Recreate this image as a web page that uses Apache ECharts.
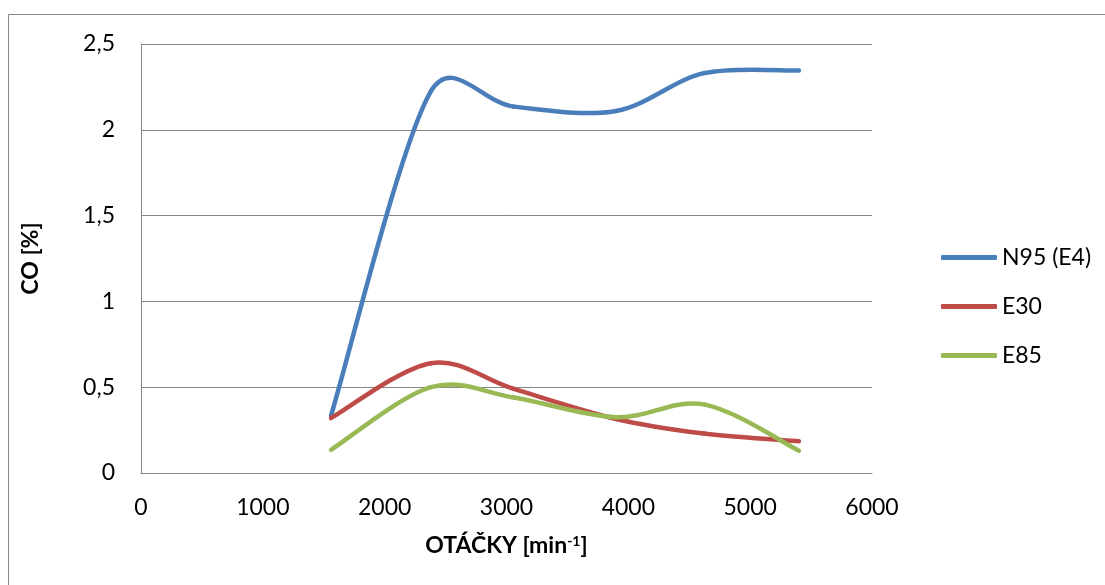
<!DOCTYPE html>
<html>
<head>
<meta charset="utf-8">
<script src="https://cdn.jsdelivr.net/npm/echarts@6/dist/echarts.min.js"></script>
<style>
html,body{margin:0;padding:0;background:#fff;}
#chart{width:1105px;height:585px;}
</style>
</head>
<body>
<div id="chart"></div>
<script>
const rpm = [1560, 2380, 3060, 3900, 4620, 5400];
const n95 = [0.335, 2.225, 2.135, 2.11, 2.33, 2.345];
const e30 = [0.32, 0.64, 0.49, 0.315, 0.23, 0.185];
const e85 = [0.135, 0.50, 0.44, 0.325, 0.40, 0.13];
const seriesNames = ['N95 (E4)', 'E30', 'E85'];
const colors = ['#4A7EBB', '#BE4B48', '#98B954'];
const xTicks = {min: 0, max: 6000, interval: 1000};
const yTicks = {min: 0, max: 2.5, interval: 0.5};

const FONT = 'Lato';
const FS = 23;
const pair = (xs, ys) => xs.map((x, i) => [x, ys[i]]);
const allData = [n95, e30, e85];

// Smoothed Bezier segment between data points (1/6 tangents, capped at half the segment), pixel space from the axes
function makeRender(ys, color) {
  return function (params, api) {
    const i = params.dataIndex;
    const n = rpm.length;
    if (i >= n - 1) return null;
    const cl = k => Math.max(0, Math.min(n - 1, k));
    const P = k => api.coord([rpm[cl(k)], ys[cl(k)]]);
    const dist = (a, b) => Math.hypot(a[0] - b[0], a[1] - b[1]);
    const p0 = P(i - 1), p1 = P(i), p2 = P(i + 1), p3 = P(i + 2);
    const d12 = dist(p1, p2);
    const ctrl = (a, b, sign, base) => {
      let vx = (b[0] - a[0]) / 6, vy = (b[1] - a[1]) / 6;
      const len = Math.hypot(vx, vy);
      if (len > d12 / 2 && len > 0) { const s = (d12 / 2) / len; vx *= s; vy *= s; }
      return [base[0] + sign * vx, base[1] + sign * vy];
    };
    const c1 = ctrl(p0, p2, 1, p1);
    const c2 = ctrl(p1, p3, -1, p2);
    return {
      type: 'bezierCurve',
      shape: {
        x1: p1[0], y1: p1[1],
        cpx1: c1[0], cpy1: c1[1],
        cpx2: c2[0], cpy2: c2[1],
        x2: p2[0], y2: p2[1]
      },
      style: {stroke: color, fill: null, lineWidth: 4.5, lineCap: 'round', lineJoin: 'round'}
    };
  };
}

const chart = echarts.init(document.getElementById('chart'));
chart.setOption({
  backgroundColor: '#fff',
  animation: false,
  textStyle: {fontFamily: FONT},
  graphic: [{
    type: 'rect', silent: true,
    shape: {x: 8.5, y: 14.5, width: 1300, height: 800},
    style: {fill: 'none', stroke: '#868686', lineWidth: 1}
  }],
  grid: {left: 141, top: 44, width: 731, height: 429},
  legend: {
    orient: 'vertical', left: 936, top: 241,
    itemWidth: 56, itemHeight: 5, itemGap: 26,
    icon: 'roundRect',
    textStyle: {fontFamily: FONT, fontSize: FS, color: '#000'},
    data: seriesNames
  },
  xAxis: {
    type: 'value', min: xTicks.min, max: xTicks.max, interval: xTicks.interval,
    name: 'OTÁČKY [min{sup|-1}]', nameLocation: 'middle', nameGap: 61,
    nameTextStyle: {
      fontFamily: FONT, fontSize: FS, fontWeight: 'bold', color: '#000',
      rich: {sup: {fontFamily: FONT, fontSize: 14, fontWeight: 'bold', verticalAlign: 'top', padding: [0, 0, 10, 0]}}
    },
    axisLine: {show: true, lineStyle: {color: '#868686', width: 1}},
    axisTick: {show: false},
    splitLine: {show: false},
    axisLabel: {fontFamily: FONT, fontSize: FS, color: '#000', margin: 23, formatter: v => String(v)}
  },
  yAxis: {
    type: 'value', min: yTicks.min, max: yTicks.max, interval: yTicks.interval,
    name: 'CO [%]', nameLocation: 'middle', nameGap: 99, nameRotate: 90,
    nameTextStyle: {fontFamily: FONT, fontSize: FS, fontWeight: 'bold', color: '#000'},
    axisLine: {show: true, lineStyle: {color: '#868686', width: 1}},
    axisTick: {show: false},
    splitLine: {show: true, lineStyle: {color: '#868686', width: 1}},
    axisLabel: {
      fontFamily: FONT, fontSize: FS, color: '#000', margin: 26,
      formatter: v => String(v).replace('.', ',')
    }
  },
  series: seriesNames.map((name, i) => ({
    name, type: 'custom', clip: false,
    renderItem: makeRender(allData[i], colors[i]),
    encode: {x: 0, y: 1},
    data: pair(rpm, allData[i]),
    itemStyle: {color: colors[i]}
  }))
});
</script>
</body>
</html>
